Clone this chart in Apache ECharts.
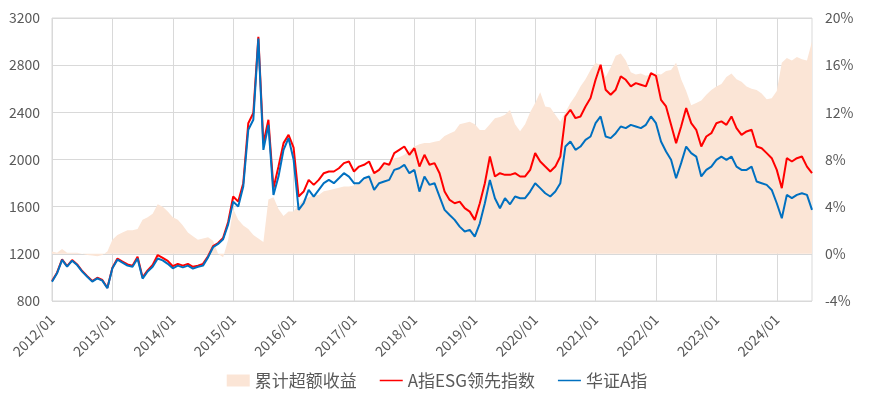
<!DOCTYPE html>
<html>
<head>
<meta charset="utf-8">
<script src="https://cdn.jsdelivr.net/npm/echarts@6/dist/echarts.min.js"></script>
<style>
html, body { margin: 0; padding: 0; background: #fff; }
#chart { width: 874px; height: 398px; }
</style>
</head>
<body>
<div id="chart"></div>
<script>
// month labels 2012/01 .. 2024/08
var months = [];
for (var y = 2012; y <= 2024; y++) {
	for (var mo = 1; mo <= 12; mo++) {
		if (y == 2024 && mo > 8) break;
		months.push(y + '/' + (mo < 10 ? '0' + mo : mo));
	}
}

var leftTicks = [800, 1200, 1600, 2000, 2400, 2800, 3200];
var rightTicks = [-4, 0, 4, 8, 12, 16, 20];

// 累计超额收益 (%)
var excess = [
	0.2, 0.1, 0.4, 0.1, 0.1, 0.1, 0.0, -0.1, -0.15, -0.2, -0.1, 0.2,
	1.2, 1.6, 1.8, 2.0, 2.0, 2.1, 2.9, 3.1, 3.4, 4.2, 4.0, 3.6,
	3.1, 2.9, 2.4, 1.8, 1.5, 1.2, 1.3, 1.4, 1.1, 0.0, -0.3, 1.2,
	3.8, 2.9, 2.4, 2.1, 1.6, 1.3, 1.0, 4.6, 4.8, 3.8, 3.2, 3.6,
	3.6, 4.2, 4.6, 4.8, 5.0, 5.0, 5.3, 5.4, 5.5, 5.6, 5.7, 5.7,
	5.8, 6.0, 6.2, 6.7, 6.9, 7.3, 7.5, 7.8, 8.1, 8.2, 8.4, 8.8,
	9.1, 9.3, 9.4, 9.4, 9.5, 9.6, 10.0, 10.2, 10.4, 11.0, 11.1, 11.2,
	11.0, 10.5, 10.5, 11.0, 11.5, 11.6, 11.8, 12.2, 11.0, 10.4, 11.0, 12.0,
	12.8, 13.7, 12.5, 12.4, 11.8, 11.2, 12.0, 12.8, 13.4, 14.2, 14.8, 15.6,
	16.2, 16.0, 15.0, 15.8, 16.8, 17.0, 16.4, 15.4, 15.2, 15.3, 15.1, 15.2,
	15.3, 15.2, 15.5, 15.6, 16.2, 14.8, 13.8, 12.6, 12.8, 13.0, 13.5, 13.9,
	14.2, 14.4, 15.0, 15.3, 14.8, 14.6, 14.2, 14.0, 13.9, 13.6, 13.1, 13.2,
	13.8, 16.2, 16.6, 16.4, 16.7, 16.5, 16.4, 18.0
];

// A指ESG领先指数
var esgIndex = [
	969, 1040, 1153, 1096, 1147, 1110, 1054, 1011, 969, 997, 978, 913,
	1082, 1160, 1135, 1110, 1100, 1175, 1000, 1060, 1105, 1190, 1165, 1140,
	1095, 1115, 1100, 1115, 1090, 1100, 1115, 1180, 1265, 1292, 1335, 1470,
	1686, 1643, 1799, 2308, 2394, 3040, 2139, 2337, 1757, 1940, 2139, 2209,
	2100, 1686, 1728, 1827, 1785, 1827, 1884, 1898, 1898, 1926, 1969, 1983,
	1898, 1940, 1955, 1983, 1884, 1912, 1969, 1955, 2054, 2082, 2110, 2040,
	2096, 1940, 2040, 1955, 1969, 1884, 1728, 1657, 1629, 1643, 1587, 1558,
	1488, 1629, 1799, 2025, 1856, 1884, 1870, 1870, 1884, 1856, 1856, 1912,
	2054, 1983, 1940, 1898, 1940, 2025, 2365, 2422, 2351, 2365, 2450, 2521,
	2676, 2804, 2592, 2549, 2592, 2705, 2676, 2620, 2648, 2634, 2620, 2733,
	2710, 2506, 2450, 2294, 2139, 2280, 2436, 2308, 2252, 2110, 2195, 2223,
	2308, 2323, 2294, 2365, 2266, 2209, 2238, 2252, 2110, 2096, 2054, 2011,
	1912, 1757, 2011, 1983, 2011, 2025, 1940, 1884
];

// 华证A指
var aIndex = [
	964, 1035, 1148, 1091, 1142, 1105, 1049, 1006, 964, 992, 973, 908,
	1077, 1150, 1125, 1100, 1090, 1160, 990, 1050, 1090, 1160, 1145, 1115,
	1077, 1100, 1085, 1100, 1075, 1090, 1100, 1170, 1256, 1284, 1324, 1450,
	1643, 1601, 1771, 2252, 2337, 3025, 2082, 2294, 1700, 1855, 2082, 2181,
	2000, 1573, 1630, 1742, 1686, 1742, 1799, 1827, 1799, 1841, 1884, 1855,
	1799, 1799, 1841, 1856, 1742, 1799, 1813, 1827, 1912, 1926, 1955, 1884,
	1912, 1728, 1856, 1785, 1799, 1686, 1573, 1530, 1488, 1431, 1389, 1403,
	1346, 1459, 1629, 1827, 1672, 1587, 1672, 1620, 1686, 1672, 1672, 1728,
	1799, 1757, 1714, 1686, 1728, 1799, 2110, 2153, 2082, 2110, 2167, 2195,
	2308, 2365, 2195, 2181, 2223, 2280, 2266, 2294, 2280, 2266, 2294, 2365,
	2308, 2153, 2068, 1997, 1841, 1969, 2110, 2054, 2025, 1856, 1912, 1940,
	1997, 2025, 1997, 2025, 1940, 1912, 1912, 1940, 1813, 1799, 1785, 1742,
	1629, 1502, 1700, 1672, 1700, 1714, 1700, 1573
];

var FONT = '"Noto Sans CJK SC", "Open Sans", sans-serif';
var GRID_COLOR = '#D9D9D9';
var TEXT_COLOR = '#595959';
// thin line legend icon (empty moves keep the box 12 high)
var LINE_ICON = 'path://M0,0L0,0ZM0,5.3L23,5.3L23,6.7L0,6.7ZM0,12L0,12Z';

function isJanuary(index) {
	return index % 12 === 0;
}

var option = {
	animation: false,
	backgroundColor: '#FFFFFF',
	textStyle: { fontFamily: FONT },
	grid: {
		left: 52,
		right: 62,
		top: 18,
		bottom: 97,
		show: true,
		borderColor: GRID_COLOR,
		borderWidth: 1
	},
	legend: {
		top: 367,
		left: 'center',
		itemWidth: 23,
		itemHeight: 12,
		itemGap: 23,
		textStyle: { fontSize: 17, color: TEXT_COLOR, fontFamily: FONT },
		data: [
			{ name: '累计超额收益', icon: 'rect' },
			{ name: 'A指ESG领先指数', icon: LINE_ICON },
			{ name: '华证A指', icon: LINE_ICON }
		]
	},
	xAxis: {
		type: 'category',
		boundaryGap: false,
		data: months,
		axisLine: { show: false },
		axisTick: { show: false },
		axisLabel: {
			interval: function (i) { return isJanuary(i); },
			rotate: 45,
			margin: 16,
			fontSize: 14,
			color: TEXT_COLOR,
			fontFamily: FONT
		},
		splitLine: {
			show: true,
			interval: function (i) { return isJanuary(i); },
			lineStyle: { color: GRID_COLOR, width: 1 }
		}
	},
	yAxis: [{
		type: 'value',
		min: leftTicks[0],
		max: leftTicks[leftTicks.length - 1],
		interval: 400,
		axisLine: { show: false },
		axisTick: { show: false },
		axisLabel: {
			fontSize: 14, color: TEXT_COLOR, margin: 12, fontFamily: FONT,
			formatter: function (v) { return String(v); }
		},
		splitLine: { lineStyle: { color: GRID_COLOR, width: 1 } }
	}, {
		type: 'value',
		min: rightTicks[0],
		max: rightTicks[rightTicks.length - 1],
		interval: 4,
		axisLine: { show: false },
		axisTick: { show: false },
		axisLabel: { fontSize: 14, color: TEXT_COLOR, margin: 13, formatter: '{value}%', fontFamily: FONT },
		splitLine: { show: false }
	}],
	series: [{
		name: '累计超额收益',
		type: 'line',
		yAxisIndex: 1,
		data: excess,
		symbol: 'none',
		color: '#FBE5D6',
		lineStyle: { width: 0 },
		areaStyle: { color: '#FBE5D6', opacity: 1 },
		z: 1
	}, {
		name: 'A指ESG领先指数',
		type: 'line',
		yAxisIndex: 0,
		data: esgIndex,
		symbol: 'none',
		color: '#FF0000',
		lineStyle: { width: 2, color: '#FF0000' },
		z: 3
	}, {
		name: '华证A指',
		type: 'line',
		yAxisIndex: 0,
		data: aIndex,
		symbol: 'none',
		color: '#0070C0',
		lineStyle: { width: 2, color: '#0070C0' },
		z: 4
	}]
};

var chart = echarts.init(document.getElementById('chart'), null, { renderer: 'canvas' });
chart.setOption(option);
</script>
</body>
</html>
